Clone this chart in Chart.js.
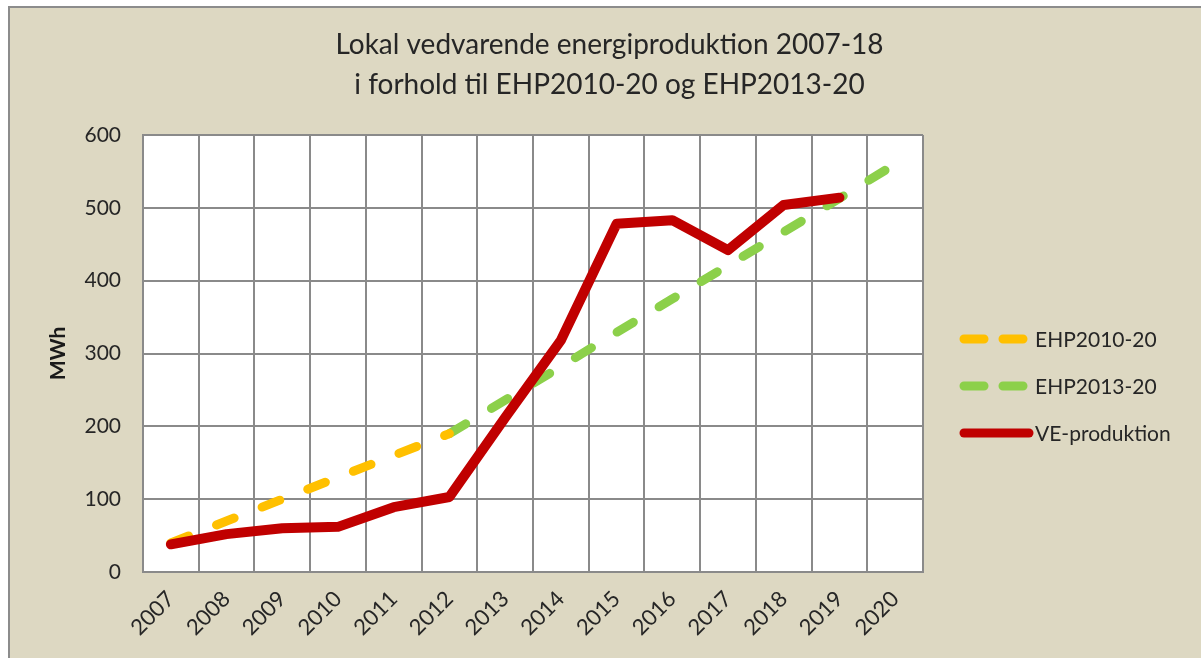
<!DOCTYPE html>
<html>
<head>
<meta charset="utf-8">
<script src="https://cdn.jsdelivr.net/npm/chart.js@4"></script>
<style>
  html, body { margin: 0; padding: 0; background: #fff; }
  #wrap {
    position: absolute; left: 8px; top: 6px; width: 1191px; height: 650px;
    border-top: 2px solid #8c8c8c; border-left: 2px solid #8c8c8c;
    background: #ddd8c2;
  }
</style>
</head>
<body>
<div id="wrap"><canvas id="chart" width="1191" height="650"></canvas></div>
<script>
// years on the x axis
const years = ['2007', '2008', '2009', '2010', '2011', '2012', '2013',
               '2014', '2015', '2016', '2017', '2018', '2019', '2020'];

// MWh
const ehp2010 = [40, 70, 100, 130, 160, 190, null, null, null, null, null, null, null, null];
const ehp2013 = [null, null, null, null, null, 190, 236, 282, 329, 375, 421, 467, 513, 560];
const veProd  = [38, 52, 60, 62, 89, 103, 212, 318, 478, 483, 442, 504, 514, null];

const yTicks = [0, 100, 200, 300, 400, 500, 600];

const titleLines = ['Lokal vedvarende energiproduktion 2007-18', 'i forhold til EHP2010-20 og EHP2013-20'];

const textColor = '#262626';
const gridColor = '#8a8a8a';
const FONT = 'Lato';

// title centred on the whole canvas (the built-in one stops at the legend padding)
const wideTitle = {
  id: 'wideTitle',
  afterDraw(chart) {
    const ctx = chart.ctx;
    ctx.save();
    ctx.font = '28px ' + FONT;
    ctx.fillStyle = textColor;
    ctx.textAlign = 'center';
    ctx.textBaseline = 'middle';
    titleLines.forEach((t, i) => ctx.fillText(t, chart.width / 2 + 4, 37 + i * 40));
    ctx.restore();
  }
};

// draws the legend to the right of the plot, with dashed samples like the lines
const sideLegend = {
  id: 'sideLegend',
  afterDraw(chart) {
    const ctx = chart.ctx;
    const x0 = chart.chartArea.right + 37;
    const sampleW = 73;
    const rowGap = 47;
    const sets = chart.data.datasets;
    const yStart = 331;
    ctx.save();
    ctx.font = '21px ' + FONT;
    ctx.textBaseline = 'middle';
    sets.forEach((ds, i) => {
      const y = yStart + i * rowGap;
      ctx.strokeStyle = ds.borderColor;
      ctx.lineWidth = 9;
      ctx.lineCap = 'round';
      ctx.setLineDash(ds.borderDash && ds.borderDash.length ? [20, 19] : []);
      ctx.beginPath();
      ctx.moveTo(x0 + 4, y);
      ctx.lineTo(x0 + sampleW - 4, y);
      ctx.stroke();
      ctx.setLineDash([]);
      ctx.fillStyle = textColor;
      ctx.fillText(ds.label, x0 + sampleW + 2, y + 1);
    });
    ctx.restore();
  }
};

// white plot background
const plotBg = {
  id: 'plotBg',
  beforeDraw(chart) {
    const a = chart.chartArea;
    const ctx = chart.ctx;
    ctx.save();
    ctx.fillStyle = '#ffffff';
    ctx.fillRect(a.left, a.top, a.right - a.left, a.bottom - a.top);
    ctx.restore();
  }
};

new Chart(document.getElementById('chart'), {
  type: 'line',
  data: {
    labels: years,
    datasets: [
      {
        label: 'EHP2010-20',
        data: ehp2010,
        borderColor: '#ffc000',
        borderWidth: 9,
        borderDash: [19, 30],
        borderCapStyle: 'round',
        borderJoinStyle: 'round',
        pointRadius: 0,
        order: 1
      },
      {
        label: 'EHP2013-20',
        data: ehp2013,
        borderColor: '#8cd04a',
        borderWidth: 9,
        borderDash: [19, 30],
        borderCapStyle: 'round',
        borderJoinStyle: 'round',
        pointRadius: 0,
        order: 2
      },
      {
        label: 'VE-produktion',
        data: veProd,
        borderColor: '#c00000',
        borderWidth: 10,
        borderCapStyle: 'round',
        borderJoinStyle: 'round',
        pointRadius: 0,
        order: 0
      }
    ]
  },
  options: {
    responsive: false,
    animation: false,
    events: [],
    layout: {
      padding: { left: 0, right: 278, top: 127, bottom: 0 }
    },
    plugins: {
      legend: { display: false },
      tooltip: { enabled: false },
      title: { display: false }
    },
    scales: {
      x: {
        offset: true,
        grid: { offset: true, color: gridColor, lineWidth: 2, drawTicks: false },
        border: { color: gridColor, width: 2 },
        ticks: {
          color: textColor,
          font: { family: FONT, size: 22 },
          minRotation: 45,
          maxRotation: 45,
          autoSkip: false,
          padding: 14
        },
        afterFit(scale) { scale.height = 86; }
      },
      y: {
        min: 0,
        max: 600,
        afterBuildTicks(scale) { scale.ticks = yTicks.map(v => ({ value: v })); },
        grid: { color: gridColor, lineWidth: 2, drawTicks: false },
        border: { color: gridColor, width: 2 },
        ticks: {
          color: textColor,
          font: { family: FONT, size: 21 },
          padding: 22
        },
        title: {
          display: true,
          text: 'MWh',
          color: '#1a1a1a',
          font: { family: FONT, size: 21, weight: 'bold' },
          padding: { top: 36, bottom: 0 }
        },
        afterFit(scale) { scale.width = 133; }
      }
    }
  },
  plugins: [plotBg, sideLegend, wideTitle]
});
</script>
</body>
</html>
